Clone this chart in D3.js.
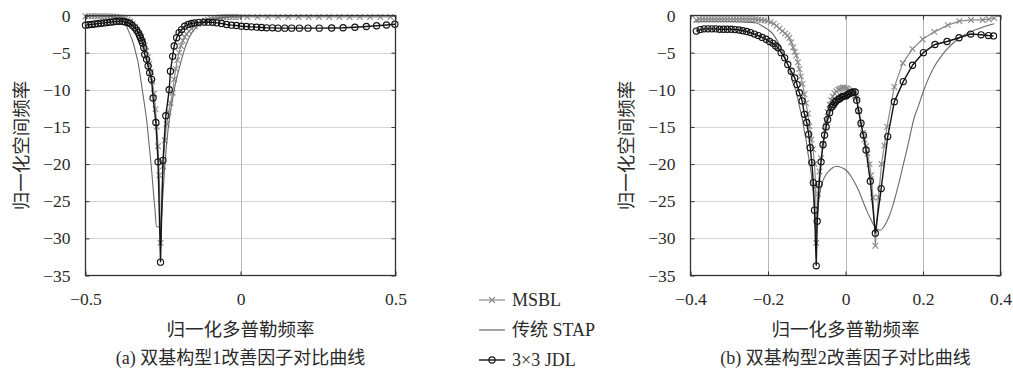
<!DOCTYPE html>
<html>
<head>
<meta charset="utf-8">
<script src="https://cdn.jsdelivr.net/npm/d3@7/dist/d3.min.js"></script>
<style>
  body { margin: 0; background: #fff; }
  svg { display: block; }
</style>
</head>
<body>
<script>
// tick values
var yTicks = [0, -5, -10, -15, -20, -25, -30, -35];
var xTicksA = [-0.5, 0, 0.5];
var xTicksB = [-0.4, -0.2, 0, 0.2, 0.4];

// (a) bistatic config 1 : [normalized doppler, improvement factor]
var msblA = [
  [-0.50,-0.10],[-0.49,-0.10],[-0.48,-0.10],[-0.47,-0.10],[-0.46,-0.10],[-0.45,-0.10],[-0.44,-0.10],[-0.43,-0.10],
  [-0.42,-0.12],[-0.41,-0.14],[-0.40,-0.17],[-0.39,-0.22],[-0.38,-0.30],[-0.372,-0.40],[-0.364,-0.55],[-0.356,-0.80],
  [-0.348,-1.10],[-0.340,-1.50],[-0.333,-1.95],[-0.326,-2.45],[-0.320,-2.90],[-0.314,-3.50],[-0.309,-4.10],[-0.304,-4.80],
  [-0.299,-5.60],[-0.294,-6.50],[-0.289,-7.60],[-0.284,-8.90],[-0.279,-10.5],[-0.274,-12.6],[-0.270,-15.0],[-0.266,-17.6],
  [-0.262,-21.5],[-0.258,-30.6],[-0.250,-20.3],[-0.244,-16.8],[-0.238,-14.6],[-0.232,-13.0],[-0.226,-11.8],[-0.219,-10.4],
  [-0.214,-8.6],[-0.209,-7.2],[-0.204,-6.0],[-0.198,-5.0],[-0.192,-4.1],[-0.186,-3.4],[-0.180,-2.9],[-0.174,-2.5],
  [-0.166,-2.1],[-0.158,-1.75],[-0.148,-1.45],[-0.137,-1.15],[-0.126,-0.90],[-0.115,-0.70],[-0.105,-0.55],[-0.095,-0.43],
  [-0.085,-0.35],[-0.075,-0.28],[-0.065,-0.24],[-0.055,-0.22],[-0.045,-0.20],[-0.035,-0.20],[-0.025,-0.20],[-0.015,-0.20],
  [-0.005,-0.20],[0.022,-0.20],[0.055,-0.20],[0.088,-0.20],[0.121,-0.20],[0.154,-0.20],[0.187,-0.20],[0.220,-0.20],
  [0.253,-0.20],[0.286,-0.20],[0.319,-0.20],[0.352,-0.20],[0.385,-0.20],[0.418,-0.20],[0.451,-0.20],[0.484,-0.20]
];
var stapA = [
  [-0.50,-0.05],[-0.46,-0.05],[-0.43,-0.10],[-0.41,-0.20],[-0.395,-0.40],[-0.385,-0.65],[-0.373,-1.0],[-0.360,-2.2],
  [-0.346,-3.7],[-0.338,-5.0],[-0.330,-6.4],[-0.320,-9.1],[-0.309,-12.2],[-0.303,-14.0],[-0.295,-17.3],[-0.287,-20.7],
  [-0.281,-23.8],[-0.276,-26.1],[-0.271,-28.4],[-0.258,-28.5],[-0.250,-24.0],[-0.242,-19.0],[-0.234,-15.5],[-0.226,-13.0],
  [-0.218,-11.0],[-0.210,-9.2],[-0.200,-7.5],[-0.190,-5.9],[-0.180,-4.5],[-0.168,-3.2],[-0.155,-2.2],[-0.140,-1.5],
  [-0.120,-1.0],[-0.100,-0.7],[-0.077,-0.45],[-0.050,-0.25],[-0.020,-0.10],[0.00,-0.05],[0.25,-0.05],[0.50,-0.05]
];
var jdlA = [
  [-0.500,-1.30],[-0.490,-1.25],[-0.480,-1.20],[-0.470,-1.15],[-0.460,-1.10],[-0.450,-1.05],[-0.440,-1.00],[-0.430,-0.95],
  [-0.420,-0.90],[-0.410,-0.85],[-0.400,-0.80],[-0.390,-0.78],[-0.380,-0.80],[-0.372,-0.88],[-0.364,-0.95],[-0.357,-1.05],
  [-0.349,-1.35],[-0.341,-1.66],[-0.335,-2.00],[-0.330,-2.30],[-0.326,-2.65],[-0.323,-3.00],[-0.319,-3.35],[-0.316,-3.70],
  [-0.312,-4.35],[-0.309,-5.25],[-0.303,-5.90],[-0.298,-6.80],[-0.293,-7.70],[-0.287,-8.60],[-0.282,-11.1],[-0.273,-14.4],
  [-0.266,-19.7],[-0.258,-33.2],[-0.250,-19.5],[-0.241,-13.5],[-0.230,-10.0],[-0.226,-7.5],[-0.219,-5.5],[-0.214,-4.1],
  [-0.206,-3.0],[-0.198,-2.3],[-0.190,-1.9],[-0.180,-1.44],[-0.169,-1.20],[-0.158,-1.08],[-0.148,-1.00],[-0.134,-0.92],
  [-0.118,-0.90],[-0.104,-0.90],[-0.090,-0.92],[-0.077,-0.99],[-0.061,-1.08],[-0.045,-1.21],[-0.029,-1.30],[-0.013,-1.35],
  [0.003,-1.44],[0.019,-1.48],[0.035,-1.53],[0.052,-1.57],[0.068,-1.62],[0.084,-1.66],[0.103,-1.66],[0.121,-1.70],
  [0.143,-1.70],[0.165,-1.70],[0.190,-1.70],[0.218,-1.70],[0.254,-1.70],[0.294,-1.68],[0.331,-1.65],[0.369,-1.58],
  [0.406,-1.48],[0.439,-1.38],[0.471,-1.28],[0.498,-1.18]
];

// (b) bistatic config 2
var msblB = [
  [-0.385,-0.6],[-0.377,-0.5],[-0.369,-0.5],[-0.361,-0.5],[-0.353,-0.5],[-0.345,-0.5],[-0.337,-0.5],[-0.329,-0.5],
  [-0.321,-0.5],[-0.313,-0.5],[-0.305,-0.5],[-0.297,-0.5],[-0.289,-0.5],[-0.281,-0.5],[-0.273,-0.5],[-0.265,-0.5],
  [-0.257,-0.5],[-0.249,-0.5],[-0.241,-0.5],[-0.233,-0.5],[-0.225,-0.55],[-0.217,-0.6],[-0.209,-0.65],[-0.201,-0.75],
  [-0.193,-0.9],[-0.185,-1.1],[-0.178,-1.4],[-0.170,-1.75],[-0.163,-2.1],[-0.156,-2.4],[-0.150,-2.7],[-0.145,-3.0],
  [-0.140,-3.6],[-0.135,-4.3],[-0.131,-4.9],[-0.127,-5.4],[-0.123,-6.3],[-0.119,-7.2],[-0.115,-8.2],[-0.111,-9.2],
  [-0.106,-10.6],[-0.102,-11.8],[-0.097,-13.2],[-0.093,-14.9],[-0.088,-16.7],[-0.084,-18.0],[-0.080,-20.0],[-0.077,-23.0],
  [-0.0755,-30.6],[-0.071,-24.0],[-0.067,-21.0],[-0.063,-19.2],[-0.058,-17.3],[-0.054,-15.5],[-0.050,-14.2],[-0.046,-13.0],
  [-0.041,-12.0],[-0.037,-11.4],[-0.033,-10.9],[-0.028,-10.5],[-0.024,-10.2],[-0.019,-10.0],[-0.015,-9.9],[-0.011,-9.8],
  [-0.007,-9.7],[-0.003,-9.7],[0.002,-9.8],[0.006,-9.9],[0.010,-10.1],[0.015,-10.4],[0.019,-10.6],[0.024,-10.8],
  [0.028,-11.1],[0.034,-12.9],[0.040,-14.7],[0.045,-15.8],[0.049,-16.7],[0.053,-17.6],[0.057,-18.6],[0.062,-20.0],
  [0.066,-21.5],[0.071,-24.5],[0.077,-31.0],[0.085,-24.5],[0.093,-20.0],[0.100,-17.5],[0.107,-15.0],[0.126,-9.6],
  [0.148,-6.4],[0.173,-4.5],[0.199,-3.2],[0.229,-2.2],[0.264,-1.3],[0.294,-0.75],[0.324,-0.6],[0.354,-0.6],
  [0.370,-0.5],[0.384,-0.35]
];
var stapB = [
  [-0.39,-0.85],[-0.34,-0.85],[-0.30,-0.85],[-0.27,-0.88],[-0.25,-0.92],[-0.23,-1.0],[-0.215,-1.4],[-0.200,-1.9],
  [-0.187,-2.5],[-0.175,-3.5],[-0.162,-4.9],[-0.153,-6.0],[-0.144,-7.3],[-0.136,-9.0],[-0.127,-10.3],[-0.119,-12.2],
  [-0.112,-13.8],[-0.106,-15.6],[-0.101,-17.0],[-0.097,-18.5],[-0.092,-20.0],[-0.088,-21.5],[-0.085,-23.0],[-0.082,-24.8],
  [-0.079,-27.0],[-0.076,-29.8],[-0.073,-27.5],[-0.069,-25.0],[-0.064,-23.2],[-0.058,-22.2],[-0.050,-21.4],[-0.042,-20.9],
  [-0.033,-20.5],[-0.024,-20.3],[-0.015,-20.35],[-0.005,-20.6],[0.005,-21.0],[0.015,-21.7],[0.025,-22.6],[0.035,-23.7],
  [0.045,-25.0],[0.055,-26.3],[0.066,-27.5],[0.075,-28.4],[0.083,-28.8],[0.090,-28.9],[0.097,-28.6],[0.105,-27.9],
  [0.113,-27.0],[0.122,-25.6],[0.131,-23.9],[0.140,-22.1],[0.148,-20.3],[0.157,-18.4],[0.166,-16.3],[0.176,-14.0],
  [0.188,-12.2],[0.199,-10.5],[0.214,-8.5],[0.229,-6.9],[0.244,-5.7],[0.259,-4.7],[0.276,-3.8],[0.294,-3.0],
  [0.311,-2.5],[0.328,-2.1],[0.345,-1.75],[0.363,-1.4],[0.384,-1.1]
];
var jdlB = [
  [-0.385,-2.1],[-0.375,-1.9],[-0.365,-1.8],[-0.355,-1.8],[-0.345,-1.8],[-0.335,-1.8],[-0.325,-1.85],[-0.315,-1.85],
  [-0.305,-1.85],[-0.295,-1.85],[-0.285,-1.9],[-0.275,-1.95],[-0.265,-2.05],[-0.255,-2.15],[-0.245,-2.3],[-0.235,-2.5],
  [-0.225,-2.7],[-0.215,-2.95],[-0.205,-3.2],[-0.196,-3.5],[-0.187,-3.75],[-0.180,-4.1],[-0.174,-4.35],[-0.166,-5.0],
  [-0.157,-5.7],[-0.149,-6.6],[-0.140,-7.5],[-0.131,-8.4],[-0.125,-9.3],[-0.119,-10.4],[-0.112,-11.5],[-0.106,-13.3],
  [-0.100,-14.4],[-0.095,-16.0],[-0.091,-17.8],[-0.087,-19.8],[-0.083,-22.5],[-0.080,-26.2],[-0.0755,-33.7],[-0.073,-27.7],
  [-0.068,-22.7],[-0.063,-19.7],[-0.058,-17.4],[-0.054,-16.1],[-0.050,-15.0],[-0.046,-14.0],[-0.041,-13.1],[-0.037,-12.4],
  [-0.034,-12.2],[-0.031,-12.0],[-0.027,-11.7],[-0.024,-11.5],[-0.019,-11.3],[-0.015,-11.2],[-0.011,-11.0],[-0.007,-10.9],
  [-0.003,-10.85],[0.002,-10.8],[0.006,-10.65],[0.010,-10.5],[0.015,-10.4],[0.019,-10.3],[0.025,-10.3],[0.029,-11.4],
  [0.034,-12.8],[0.040,-14.5],[0.046,-16.1],[0.053,-18.1],[0.064,-22.3],[0.077,-29.3],[0.092,-23.3],[0.109,-16.3],
  [0.126,-11.6],[0.149,-8.9],[0.173,-6.7],[0.201,-5.0],[0.231,-3.9],[0.262,-3.5],[0.293,-3.0],[0.323,-2.5],
  [0.350,-2.6],[0.369,-2.7],[0.382,-2.75]
];

var legendNames = ["MSBL", "传统 STAP", "3×3 JDL"];

var numFont = "'Liberation Serif', 'Noto Sans CJK SC', serif";
var cjkFont = "'Noto Sans CJK SC', 'Liberation Serif', sans-serif";
var textColor = "#2a2a2a";

var plotW = 310, plotTop = 15.5, plotBottom = 275.5;

var svg = d3.select("body").append("svg")
    .attr("width", 1013)
    .attr("height", 371);

function fmtX(d) { return d === 0 ? "0" : d3.format(".1f")(d); }

function drawCross(sel, cx, cy, s, color) {
    sel.append("path")
       .attr("d", "M" + (cx - s) + "," + (cy - s) + "L" + (cx + s) + "," + (cy + s) +
                  "M" + (cx - s) + "," + (cy + s) + "L" + (cx + s) + "," + (cy - s))
       .attr("stroke", color)
       .attr("stroke-width", 1.1)
       .attr("fill", "none");
}

function drawPanel(cfg) {
    var g = svg.append("g");
    var x = d3.scaleLinear().domain(cfg.xDomain).range([cfg.left, cfg.left + plotW]);
    var y = d3.scaleLinear().domain([-35, 0]).range([plotBottom, plotTop]);

    // grid
    g.selectAll(".hgrid")
     .data(yTicks.filter(function(d) { return d > -35 && d < 0; }))
     .enter().append("line")
     .attr("x1", x.range()[0]).attr("x2", x.range()[1])
     .attr("y1", function(d) { return Math.round(y(d)) + 0.5; })
     .attr("y2", function(d) { return Math.round(y(d)) + 0.5; })
     .attr("stroke", "#d4d4d4").attr("stroke-width", 1.2);

    g.selectAll(".vgrid")
     .data(cfg.xTicks.filter(function(d) { return d > cfg.xDomain[0] && d < cfg.xDomain[1]; }))
     .enter().append("line")
     .attr("x1", function(d) { return Math.round(x(d)) + 0.5; })
     .attr("x2", function(d) { return Math.round(x(d)) + 0.5; })
     .attr("y1", plotTop).attr("y2", plotBottom)
     .attr("stroke", "#b8b8b8").attr("stroke-width", 1);

    var marks = g.append("g");

    var lineLin = d3.line().x(function(d) { return x(d[0]); }).y(function(d) { return y(d[1]); });
    var lineSmooth = d3.line().curve(d3.curveMonotoneX)
        .x(function(d) { return x(d[0]); }).y(function(d) { return y(d[1]); });

    // MSBL
    marks.append("path").datum(cfg.msbl)
        .attr("d", lineLin).attr("fill", "none")
        .attr("stroke", "#8a8a8a").attr("stroke-width", 1.2);
    cfg.msbl.forEach(function(d) { drawCross(marks, x(d[0]), y(d[1]), 2.8, "#8a8a8a"); });

    // traditional STAP
    marks.append("path").datum(cfg.stap)
        .attr("d", lineSmooth).attr("fill", "none")
        .attr("stroke", "#6a6a6a").attr("stroke-width", 1.1);

    // JDL
    marks.append("path").datum(cfg.jdl)
        .attr("d", lineLin).attr("fill", "none")
        .attr("stroke", "#141414").attr("stroke-width", 1.4);
    marks.selectAll(".jdl")
        .data(cfg.jdl)
        .enter().append("circle")
        .attr("cx", function(d) { return x(d[0]); })
        .attr("cy", function(d) { return y(d[1]); })
        .attr("r", 3.1)
        .attr("fill", "none")
        .attr("stroke", "#141414")
        .attr("stroke-width", 1.15);

    // frame
    g.append("rect")
     .attr("x", cfg.left).attr("y", plotTop)
     .attr("width", plotW).attr("height", plotBottom - plotTop)
     .attr("fill", "none").attr("stroke", "#333").attr("stroke-width", 1.3);

    // axes, ticks point inward
    var ax = g.append("g").attr("transform", "translate(0," + plotBottom + ")")
        .call(d3.axisBottom(x).tickValues(cfg.xTicks).tickSize(-4).tickSizeOuter(0)
              .tickPadding(17).tickFormat(fmtX));
    var axTop = g.append("g").attr("transform", "translate(0," + plotTop + ")")
        .call(d3.axisTop(x).tickValues(cfg.xTicks).tickSize(-4).tickSizeOuter(0).tickFormat(""));
    var ay = g.append("g").attr("transform", "translate(" + cfg.left + ",0)")
        .call(d3.axisLeft(y).tickValues(yTicks).tickSize(-4).tickSizeOuter(0)
              .tickPadding(15).tickFormat(d3.format("d")));
    var ayR = g.append("g").attr("transform", "translate(" + (cfg.left + plotW) + ",0)")
        .call(d3.axisRight(y).tickValues(yTicks).tickSize(-4).tickSizeOuter(0).tickFormat(""));

    [ax, axTop, ay, ayR].forEach(function(a) {
        a.select(".domain").remove();
        a.selectAll(".tick line").attr("stroke", "#333");
        a.selectAll("text")
         .attr("font-family", numFont)
         .attr("font-size", 17.5)
         .attr("fill", textColor);
    });

    // axis titles
    g.append("text")
     .attr("x", cfg.left + plotW / 2).attr("y", 328)
     .attr("text-anchor", "middle").attr("dominant-baseline", "central")
     .attr("font-family", cjkFont).attr("font-size", 18.5).attr("fill", textColor)
     .text("归一化多普勒频率");

    g.append("text")
     .attr("transform", "translate(" + cfg.yLabelX + "," + ((plotTop + plotBottom) / 2) + ") rotate(-90)")
     .attr("text-anchor", "middle").attr("dominant-baseline", "central")
     .attr("font-family", cjkFont).attr("font-size", 18.5).attr("fill", textColor)
     .text("归一化空间频率");

    g.append("text")
     .attr("x", cfg.left + plotW / 2).attr("y", 358)
     .attr("text-anchor", "middle").attr("dominant-baseline", "central")
     .attr("font-family", numFont).attr("font-size", 18).attr("fill", textColor)
     .text(cfg.caption);
}

drawPanel({
    left: 85.5, xDomain: [-0.5, 0.5], xTicks: xTicksA, yLabelX: 20,
    msbl: msblA, stap: stapA, jdl: jdlA,
    caption: "(a) 双基构型1改善因子对比曲线"
});

drawPanel({
    left: 690.5, xDomain: [-0.4, 0.4], xTicks: xTicksB, yLabelX: 625,
    msbl: msblB, stap: stapB, jdl: jdlB,
    caption: "(b) 双基构型2改善因子对比曲线"
});

// legend between the panels
var legend = svg.append("g");
var rowY = [300, 330, 360];
legendNames.forEach(function(name, i) {
    var yy = rowY[i];
    var col = i === 0 ? "#8a8a8a" : (i === 1 ? "#6a6a6a" : "#141414");
    legend.append("line")
          .attr("x1", 479).attr("x2", 505).attr("y1", yy).attr("y2", yy)
          .attr("stroke", col).attr("stroke-width", i === 2 ? 1.4 : 1.2);
    if (i === 0) drawCross(legend, 492, yy, 3, col);
    if (i === 2) legend.append("circle").attr("cx", 492).attr("cy", yy).attr("r", 3.1)
                       .attr("fill", "none").attr("stroke", col).attr("stroke-width", 1.15);
    legend.append("text")
          .attr("x", 512).attr("y", yy)
          .attr("dominant-baseline", "central")
          .attr("font-family", numFont).attr("font-size", 18).attr("fill", textColor)
          .text(name);
});
</script>
</body>
</html>
